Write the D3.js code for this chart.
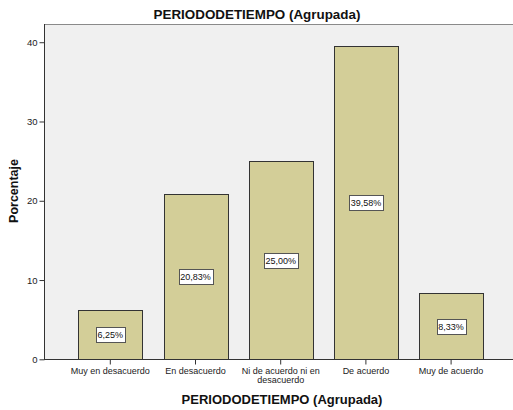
<!DOCTYPE html>
<html><head><meta charset="utf-8">
<script src="https://cdn.jsdelivr.net/npm/d3@7"></script>
<style>body{margin:0;background:#fff}svg{display:block}text{font-family:"Liberation Sans",Arial,sans-serif}</style>
</head><body>
<script>
const categories = ["Muy en desacuerdo","En desacuerdo","Ni de acuerdo ni en desacuerdo","De acuerdo","Muy de acuerdo"];
const categoryLines = [["Muy en desacuerdo"],["En desacuerdo"],["Ni de acuerdo ni en","desacuerdo"],["De acuerdo"],["Muy de acuerdo"]];
const values = [6.25, 20.83, 25.00, 39.58, 8.33];
const valueLabels = ["6,25%","20,83%","25,00%","39,58%","8,33%"];
const yTicks = [0,10,20,30,40];
const title = "PERIODODETIEMPO (Agrupada)";
const xTitle = "PERIODODETIEMPO (Agrupada)";
const yTitle = "Porcentaje";

const W=513,H=410;
const pL=44,pR=513,pT=24,pB=359.3;
const svg=d3.select("body").append("svg").attr("width",W).attr("height",H);

const y=d3.scaleLinear().domain([0,42.3]).range([pB,pT]);
const x=d3.scaleBand().domain(categories).range([67.7,493.7]).paddingInner(0.25).paddingOuter(0.125);

svg.append("rect").attr("x",pL).attr("y",pT).attr("width",pR-pL).attr("height",pB-pT).attr("fill","#f0f0f0");
svg.append("line").attr("x1",pL).attr("x2",pR).attr("y1",pT+0.5).attr("y2",pT+0.5).attr("stroke","#8a8a8a");

svg.selectAll("rect.bar").data(values).enter().append("rect").attr("class","bar")
  .attr("x",(d,i)=>Math.round(x(categories[i]))+0.5)
  .attr("y",d=>Math.round(y(d))+0.5)
  .attr("width",Math.round(x.bandwidth()))
  .attr("height",d=>Math.round(y(0))-Math.round(y(d)))
  .attr("fill","#d3ce98").attr("stroke","#333").attr("stroke-width",1);

// y axis
const ya=svg.append("g").attr("transform",`translate(${pL+0.5},0)`).call(d3.axisLeft(y).tickValues(yTicks).tickSize(5).tickPadding(2));
ya.select(".domain").attr("d",`M0,${pT}V${pB}`).attr("stroke","#333");
ya.selectAll(".tick line").attr("stroke","#333");
ya.selectAll("text").attr("font-size",9.5).attr("fill","#222").attr("font-family","Liberation Sans, Arial, sans-serif");

// x axis
const xa=svg.append("g").attr("transform",`translate(0,${Math.round(pB)+0.5})`).call(d3.axisBottom(x).tickSize(5).tickFormat(""));
xa.select(".domain").attr("d",`M${pL},0H${pR}`).attr("stroke","#333");
xa.selectAll(".tick line").attr("stroke","#333");
const xl=svg.append("g");
categoryLines.forEach((lines,i)=>{
  const t=xl.append("text").attr("x",x(categories[i])+x.bandwidth()/2).attr("y",373.5).attr("text-anchor","middle").attr("font-size",9).attr("fill","#222");
  lines.forEach((l,j)=>t.append("tspan").attr("x",x(categories[i])+x.bandwidth()/2).attr("dy",j?9:0).text(l));
});

// value labels
values.forEach((v,i)=>{
  const cx=x(categories[i])+x.bandwidth()/2, cy=(y(v)+y(0))/2;
  const g=svg.append("g");
  const t=g.append("text").attr("x",cx).attr("y",cy+3.3).attr("text-anchor","middle").attr("font-size",9).attr("fill","#111").text(valueLabels[i]);
  const bb=t.node().getBBox();
  g.insert("rect","text").attr("x",Math.round(bb.x-1.5)+0.5).attr("y",Math.round(cy-7.5)+0.5).attr("width",Math.round(bb.width+3)).attr("height",15)
    .attr("fill","#fff").attr("stroke","#555");
});

svg.append("text").attr("x",257).attr("y",18.5).attr("text-anchor","middle").attr("font-size",13.4).attr("font-weight","bold").attr("fill","#111").text(title);
svg.append("text").attr("x",282).attr("y",404).attr("text-anchor","middle").attr("font-size",13).attr("font-weight","bold").attr("fill","#111").text(xTitle);
svg.append("text").attr("transform","translate(18,191) rotate(-90)").attr("text-anchor","middle").attr("font-size",12.5).attr("font-weight","bold").attr("fill","#111").text(yTitle);
</script>
</body></html>
